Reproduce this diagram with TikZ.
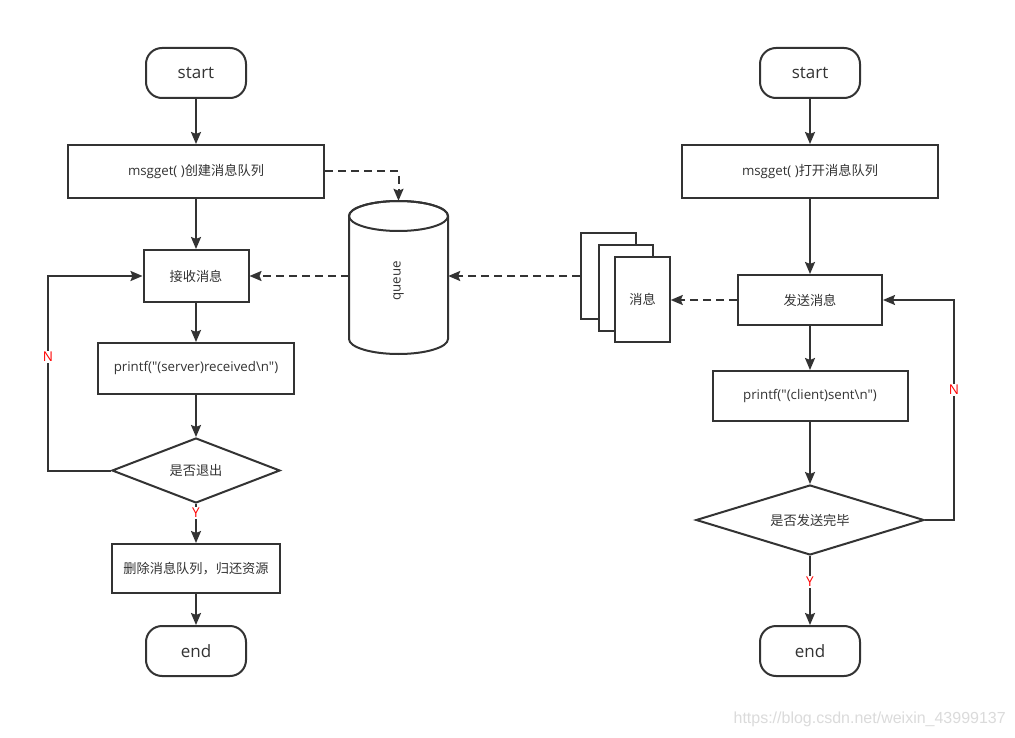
\documentclass[tikz,border=0pt]{standalone}
\usepackage{fontspec}
\newfontfamily\lat{Open Sans}
\newfontfamily\cjk{Noto Sans CJK SC}
\newfontfamily\wmfont{Liberation Sans}
\newcommand\cj[1]{{\cjk\fontsize{13.2}{15}\selectfont #1}}
\usetikzlibrary{shapes.geometric,arrows.meta}
\definecolor{ln}{HTML}{333333}
\begin{document}
\begin{tikzpicture}[x=1pt,y=-1pt,
 every node/.style={text=ln, font=\lat\fontsize{13.3}{15}\selectfont},
 box/.style={draw=ln, line width=2pt, fill=white, rectangle, inner sep=0pt},
 term/.style={box, rounded corners=16pt, minimum width=100pt, minimum height=50pt, font=\lat\fontsize{17}{20}\selectfont},
 dec/.style={draw=ln, line width=2pt, fill=white, diamond, aspect=3, inner sep=0pt},
 arr/.style={draw=ln, line width=2pt, -{Stealth[length=12pt,width=10pt,inset=2pt]}},
 darr/.style={arr, dash pattern=on 8pt off 5pt},
 yn/.style={text=red, fill=white, inner sep=1.5pt, font=\lat\fontsize{13.5}{15}\selectfont}]
\fill[white] (0,0) rectangle (1015,738);
\useasboundingbox (0,0) rectangle (1015,738);
% left column
\node[term] (s1) at (196,73) {start};
\node[box, minimum width=256pt, minimum height=53pt] (m1) at (196,171.5) {msgget( )\cj{创建消息队列}};
\node[box, minimum width=105pt, minimum height=52pt] (r1) at (196,276) {\cj{接收消息}};
\node[box, minimum width=196pt, minimum height=51pt] (p1) at (196,368.5) {printf("(server)received\textbackslash n")};
\node[dec, minimum width=168pt, minimum height=65pt] (q1) at (196,470.5) {\cj{是否退出}};
\node[box, minimum width=168pt, minimum height=49pt] (x1) at (196,568.5) {\cj{删除消息队列，归还资源}};
\node[term] (e1) at (196,651) {end};
% right column
\node[term] (s2) at (810,73) {start};
\node[box, minimum width=256pt, minimum height=53pt] (m2) at (810,171.5) {msgget( )\cj{打开消息队列}};
\node[box, minimum width=144pt, minimum height=50pt] (r2) at (810,300) {\cj{发送消息}};
\node[box, minimum width=195pt, minimum height=50pt] (p2) at (810,396) {printf("(client)sent\textbackslash n")};
\node[dec, minimum width=228pt, minimum height=70pt] (q2) at (810,520) {\cj{是否发送完毕}};
\node[term] (e2) at (810,651) {end};
% queue cylinder
\node[minimum width=99pt, minimum height=153pt, inner sep=0pt] (qu) at (398.5,277.5) {};
\filldraw[draw=ln, fill=white, line width=2pt] (349,216) -- (349,339)
  arc[start angle=180, end angle=0, x radius=49.5, y radius=15] -- (448,216)
  arc[start angle=0, end angle=-180, x radius=49.5, y radius=15] -- cycle;
\draw[draw=ln, line width=2pt] (398.5,216) ellipse[x radius=49.5, y radius=15];
\node[rotate=90] (qt) at (398.5,281) {queue};
% message documents
\node[box, minimum width=55pt, minimum height=86pt] (d1) at (608.5,276) {};
\node[box, minimum width=54pt, minimum height=86pt] (d2) at (626,288) {};
\node[box, minimum width=54.5pt, minimum height=85.5pt] (d3) at (642.5,299.5) {\cj{消息}};
% main flow arrows
\draw[arr] (s1) -- (m1);
\draw[arr] (m1) -- (r1);
\draw[arr] (r1) -- (p1);
\draw[arr] (p1) -- (q1);
\draw[arr] (q1) -- (x1);
\draw[arr] (x1) -- (e1);
\draw[arr] (s2) -- (m2);
\draw[arr] (m2) -- (r2);
\draw[arr] (r2) -- (p2);
\draw[arr] (p2) -- (q2);
\draw[arr] (q2) -- (e2);
% loops
\coordinate (lx) at (48,0);
\coordinate (rx) at (954,0);
\draw[arr] (q1.west) -- (q1.west -| lx) |- (r1.west);
\draw[arr] (q2.east) -- (q2.east -| rx) |- (r2.east);
% dashed
\draw[darr] (m1.east) -| (qu.north);
\draw[darr] (qu.west |- r1.east) -- (r1.east);
\draw[darr] (d1.west) -- (d1.west -| qu.east);
\draw[darr] (r2.west) -- (r2.west -| d3.east);
% labels
\node[yn] (n1) at (48,357) {N};
\node[yn] (n2) at (954,390) {N};
\node[yn] (y1) at (196,513) {Y};
\node[yn] (y2) at (810,582) {Y};
\node[text=black!14, font=\wmfont\fontsize{16}{18}\selectfont, anchor=east, inner sep=0pt] (wm) at (1006,719) {https://blog.csdn.net/weixin\_43999137};
\end{tikzpicture}
\end{document}
